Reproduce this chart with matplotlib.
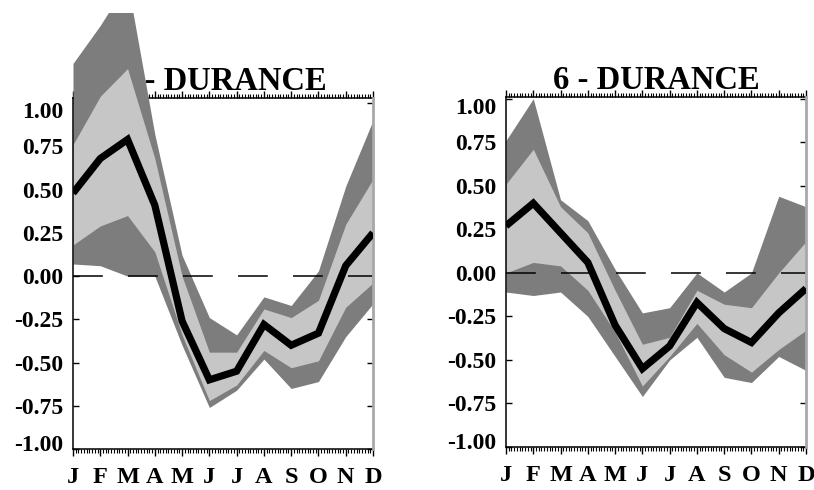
import matplotlib
matplotlib.use('Agg')
import numpy as np
import matplotlib.pyplot as plt
from matplotlib.ticker import FixedLocator, MultipleLocator, FuncFormatter
from matplotlib.patches import Rectangle
from matplotlib.transforms import ScaledTranslation

plt.rcParams['font.family'] = ['Liberation Serif', 'DejaVu Serif']
plt.rcParams['font.weight'] = 'bold'

months = ['J', 'F', 'M', 'A', 'M', 'J', 'J', 'A', 'S', 'O', 'N', 'D']
yticks = [1.0, 0.75, 0.5, 0.25, 0.0, -0.25, -0.5, -0.75, -1.0]

titles = ['5 - DURANCE', '6 - DURANCE']

# station 5 - Durance : median line, inner (light) and outer (dark) envelopes
line_5 = [0.48, 0.68, 0.79, 0.41, -0.26, -0.60, -0.55, -0.28, -0.40, -0.33, 0.06, 0.25]
light_hi_5 = [0.76, 1.04, 1.20, 0.68, 0.00, -0.44, -0.44, -0.19, -0.24, -0.14, 0.30, 0.56]
dark_hi_5 = [1.23, 1.45, 1.70, 0.82, 0.12, -0.24, -0.34, -0.12, -0.17, 0.03, 0.52, 0.90]
light_lo_5 = [0.18, 0.29, 0.35, 0.14, -0.34, -0.72, -0.63, -0.43, -0.53, -0.49, -0.18, -0.04]
dark_lo_5 = [0.07, 0.06, 0.00, 0.00, -0.40, -0.76, -0.66, -0.48, -0.65, -0.61, -0.35, -0.16]

# station 6 - Durance
line_6 = [0.27, 0.40, 0.23, 0.06, -0.30, -0.55, -0.42, -0.17, -0.32, -0.40, -0.23, -0.09]
light_hi_6 = [0.51, 0.71, 0.38, 0.23, -0.10, -0.41, -0.37, -0.10, -0.18, -0.20, 0.00, 0.18]
dark_hi_6 = [0.76, 1.00, 0.42, 0.30, 0.02, -0.23, -0.20, 0.00, -0.11, 0.00, 0.44, 0.38]
light_lo_6 = [0.00, 0.06, 0.04, -0.10, -0.34, -0.65, -0.48, -0.29, -0.47, -0.57, -0.44, -0.33]
dark_lo_6 = [-0.11, -0.13, -0.11, -0.25, -0.48, -0.71, -0.50, -0.37, -0.60, -0.63, -0.48, -0.56]

DARK = '#7d7d7d'
LIGHT = '#c6c6c6'

W, H = 814, 490
fig = plt.figure(figsize=(W / 100, H / 100), dpi=100)

# axes boxes in pixels: left, top, right, bottom
boxes = [(73, 98, 373, 449), (506, 97, 806, 447)]
ytops = [1.03, 1.01]
panels = [
    (line_5, light_hi_5, dark_hi_5, light_lo_5, dark_lo_5),
    (line_6, light_hi_6, dark_hi_6, light_lo_6, dark_lo_6),
]

# bands may spill above the frame but stop a little below the page edge
page_clip = Rectangle((0, 0), 1, 1 - 13 / H, transform=fig.transFigure)

x = np.arange(len(months))
for (l, t, r, b), ytop, title, (line, lhi, dhi, llo, dlo) in zip(boxes, ytops, titles, panels):
    ax = fig.add_axes([l / W, (H - b) / H, (r - l) / W, (b - t) / H])
    ax.set_xlim(0, 11)
    ax.set_ylim(-1, ytop)

    dark = ax.fill_between(x, dlo, dhi, color=DARK, lw=0, zorder=3.5)
    light = ax.fill_between(x, llo, lhi, color=LIGHT, lw=0, zorder=3.6)
    for poly in (dark, light):
        poly.set_clip_on(True)
        poly.set_clip_path(page_clip)

    ax.axhline(0, color='k', lw=1.1, dashes=(19.5, 16.5), zorder=5)
    ax.plot(x, line, color='k', lw=5.2, zorder=6,
            solid_joinstyle='miter', solid_capstyle='butt')

    ax.set_title(title, fontsize=23.5, fontweight='bold', pad=6, zorder=3)

    ax.xaxis.set_major_locator(FixedLocator(x))
    ax.xaxis.set_minor_locator(MultipleLocator(0.1))
    ax.set_xticklabels(months)
    ax.yaxis.set_major_locator(FixedLocator(yticks))
    ax.yaxis.set_major_formatter(FuncFormatter(lambda v, p: f'{v:.2f}'))

    ax.tick_params(axis='x', which='both', direction='out', top=True, bottom=True,
                   labelsize=17.5, pad=8)
    ax.tick_params(axis='x', which='major', length=5, width=1.0)
    ax.tick_params(axis='x', which='minor', length=3, width=0.8)
    ax.tick_params(axis='y', which='major', direction='in', left=True, right=True,
                   length=4, width=1.0, labelsize=17, pad=7)

    # end labels sit a little inside the frame
    ticks = ax.yaxis.get_major_ticks()
    ticks[0].label1.set_transform(ticks[0].label1.get_transform()
                                  + ScaledTranslation(0, -7 / 100, fig.dpi_scale_trans))
    ticks[-1].label1.set_transform(ticks[-1].label1.get_transform()
                                   + ScaledTranslation(0, 6 / 100, fig.dpi_scale_trans))

    for side in ('left', 'bottom', 'top'):
        ax.spines[side].set_linewidth(1.1)
        ax.spines[side].set_color('k')
    ax.spines['left'].set_zorder(5)
    ax.spines['right'].set_color('#a8a8a8')
    ax.spines['right'].set_linewidth(2.0)
    ax.spines['right'].set_zorder(5)

fig.savefig('out.png', dpi=100)
